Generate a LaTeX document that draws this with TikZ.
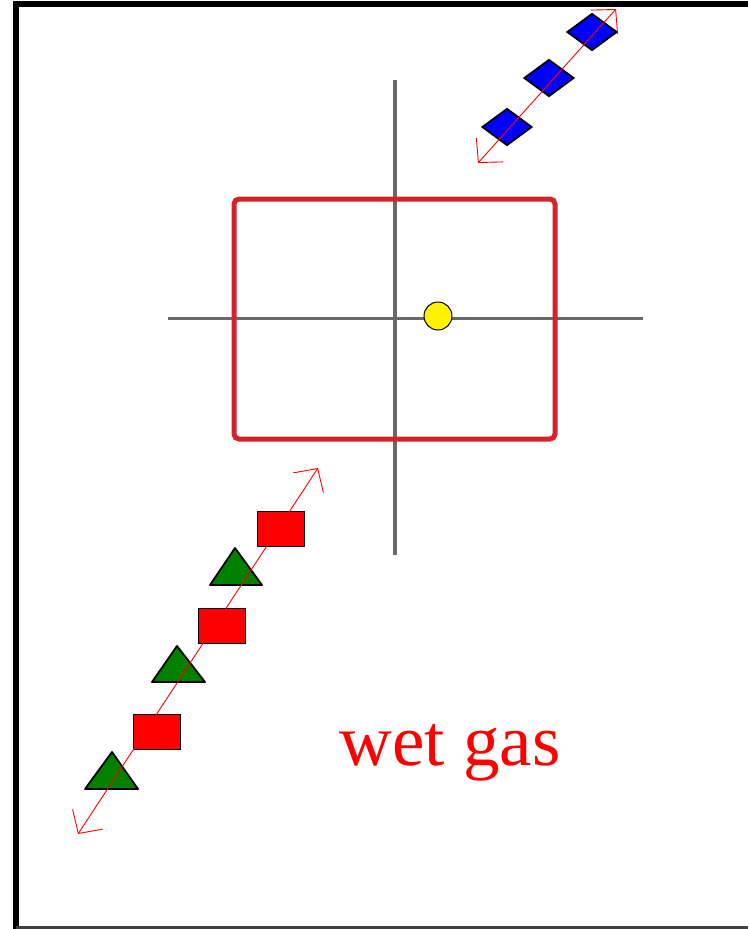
\documentclass[tikz,border=0pt]{standalone}
\usepackage{fontspec}
\setmainfont{Liberation Serif}
\usetikzlibrary{arrows.meta,shapes.geometric}
\definecolor{boxred}{RGB}{212,36,42}
\definecolor{axisgrey}{RGB}{105,105,105}
\definecolor{tgreen}{RGB}{0,128,0}
\tikzset{
  frameline/.style={line width=6pt,black},
  axisline/.style={axisgrey,line width=4pt},
  flowarrow/.style={red,line width=0.9pt,{Straight Barb[length=17pt,width=36pt]}-{Straight Barb[length=17pt,width=36pt]}},
  bluedia/.style={diamond,draw=black,fill=blue,line width=1.8pt,minimum width=50pt,minimum height=37pt,inner sep=0pt},
  redsq/.style={rectangle,draw=black,fill=red,line width=1.8pt,minimum width=47pt,minimum height=35pt,inner sep=0pt},
  greentri/.style={draw=black,fill=tgreen,line width=1.8pt,line join=round},
}
\begin{document}
\begin{tikzpicture}[x=1pt,y=-1pt]
\useasboundingbox (0,0) rectangle (748,929);
\fill[white] (0,0) rectangle (748,929);
% frame
\draw[frameline] (16,929) -- (16,3.5) -- (748,3.5);
\draw[black!75,line width=2.5pt] (16,927.5) -- (748,927.5);
% crosshair
\coordinate (vt) at (395,80);
\coordinate (vb) at (395,555);
\coordinate (hl) at (168,318);
\coordinate (hr) at (643,318);
\draw[axisline] (vt) -- (vb);
\draw[axisgrey,line width=3pt] (hl) -- (hr);
% red box
\node[draw=boxred,line width=5pt,rounded corners=5pt,minimum width=321pt,minimum height=240pt,inner sep=0pt] (box) at (394.5,319) {};
% yellow dot
\node[circle,draw=black,fill=yellow,line width=1pt,minimum size=28pt,inner sep=0pt] (dot) at (438,316) {};
% blue diamonds
\node[bluedia] (d1) at (592,32) {};
\node[bluedia] (d2) at (549,78) {};
\node[bluedia] (d3) at (507,127) {};
% red squares
\node[redsq] (s1) at (281,529) {};
\node[redsq] (s2) at (222,626) {};
\node[redsq] (s3) at (157,732) {};
% green triangles
\filldraw[greentri] (210,585) -- (262,585) -- (235,548) -- cycle;
\filldraw[greentri] (152,682) -- (205,682) -- (177,646) -- cycle;
\filldraw[greentri] (85,789) -- (138,789) -- (112,752) -- cycle;
% arrows
\coordinate (a1s) at (478,163);
\coordinate (a1e) at (616,9);
\draw[flowarrow] (a1s) -- (a1e);
\coordinate (a2s) at (78,834);
\coordinate (a2e) at (318,468);
\draw[flowarrow] (a2s) -- (a2e);
% label
\node[anchor=base,text=red,font=\fontsize{73}{80}\selectfont,inner sep=0pt] (lbl) at (450,765) {wet gas};
\end{tikzpicture}
\end{document}
